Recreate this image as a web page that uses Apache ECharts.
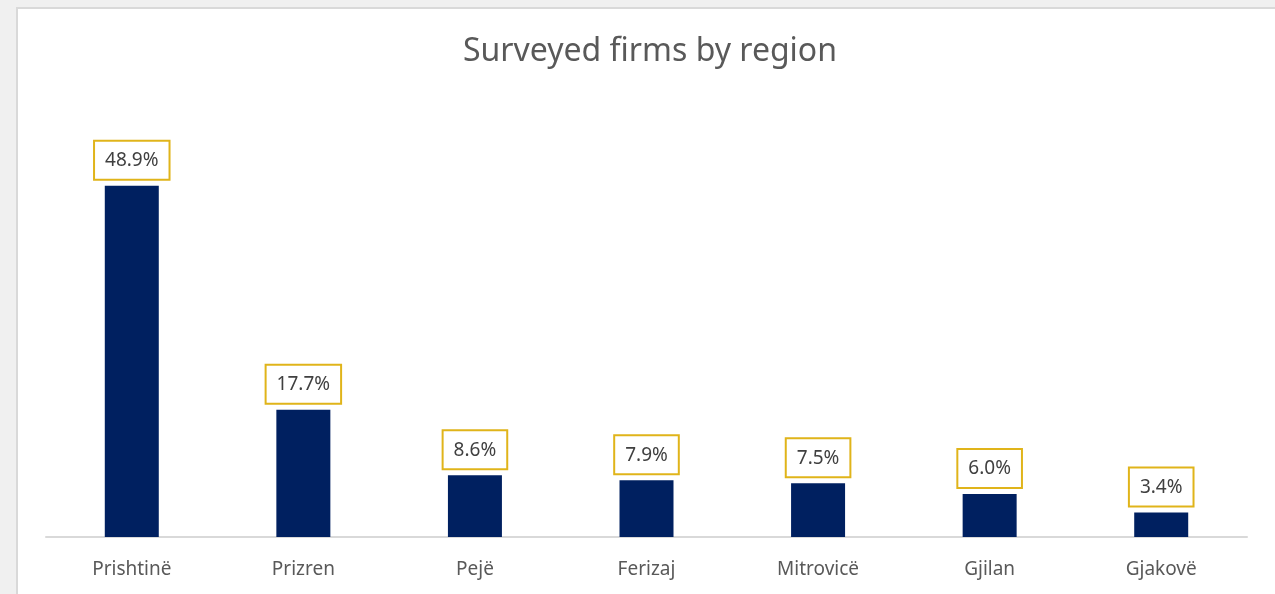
<!DOCTYPE html>
<html>
<head>
<meta charset="utf-8">
<script src="https://cdn.jsdelivr.net/npm/echarts@6/dist/echarts.min.js"></script>
<style>
html,body{margin:0;padding:0;background:#f0f0f0;width:1275px;height:594px;overflow:hidden;}
#frame{position:absolute;left:16px;top:7px;width:1259px;height:587px;background:#fff;border-left:2px solid #d9d9d9;border-top:2px solid #d9d9d9;box-sizing:border-box;}
#chart{position:absolute;left:0;top:0;width:1275px;height:594px;}
</style>
</head>
<body>
<div id="frame"></div>
<div id="chart"></div>
<script>
const categories = ["Prishtinë", "Prizren", "Pejë", "Ferizaj", "Mitrovicë", "Gjilan", "Gjakovë"];
const shares = [48.9, 17.7, 8.6, 7.9, 7.5, 6.0, 3.4];
const titleText = "Surveyed firms by region";

const chart = echarts.init(document.getElementById('chart'), null, {renderer: 'canvas'});
chart.setOption({
  backgroundColor: 'transparent',
  animation: false,
  title: {
    text: titleText,
    left: 645, top: 31, textAlign: 'center',
    textStyle: {fontFamily: 'Noto Sans', fontSize: 32, fontWeight: 'normal', color: '#595959'}
  },
  grid: {left: 46, right: 28, top: 106, bottom: 57},
  xAxis: {
    type: 'category', data: categories,
    axisLine: {lineStyle: {color: '#d9d9d9', width: 2}},
    axisTick: {show: false},
    axisLabel: {fontFamily: 'Noto Sans', fontSize: 19, color: '#595959', margin: 23}
  },
  yAxis: {type: 'value', min: 0, max: 60, show: false, splitLine: {show: false}},
  series: [{
    type: 'bar', data: shares, barWidth: 54,
    itemStyle: {color: '#002060'},
    label: {
      show: true, position: 'top', distance: 7,
      formatter: p => p.value.toFixed(1) + '%',
      fontFamily: 'Noto Sans', fontSize: 19, color: '#404040',
      backgroundColor: '#fff', borderColor: '#E0B41A', borderWidth: 2,
      padding: [8, 10, 7, 10], lineHeight: 22
    }
  }]
});
</script>
</body>
</html>
